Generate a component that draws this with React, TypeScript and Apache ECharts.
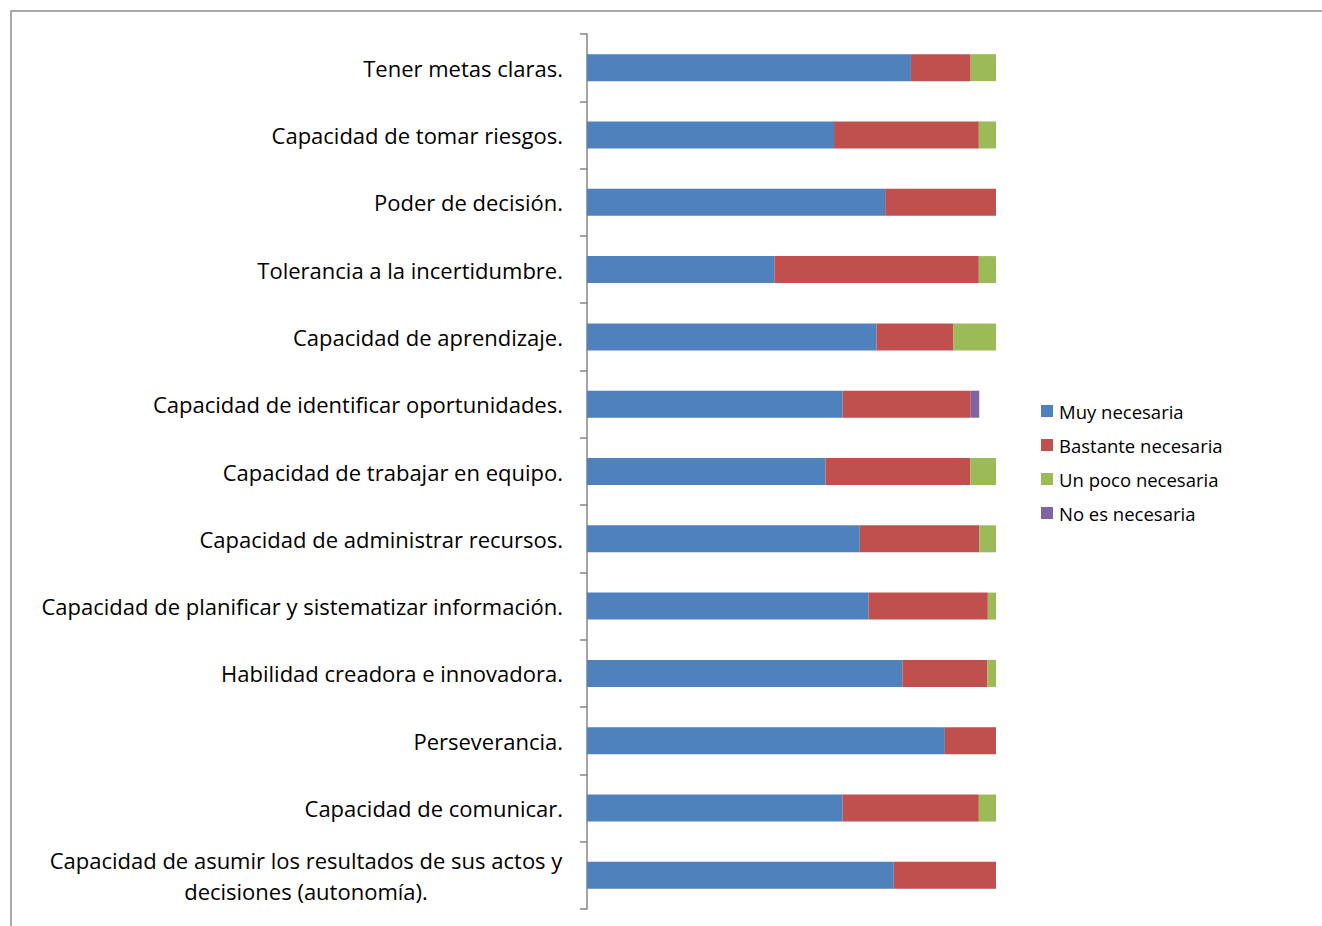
import React, { useEffect, useRef } from "react";
import * as echarts from "echarts";

const categories = [
  "Tener metas claras.",
  "Capacidad de tomar riesgos.",
  "Poder de decisión.",
  "Tolerancia a la incertidumbre.",
  "Capacidad de aprendizaje.",
  "Capacidad de identificar oportunidades.",
  "Capacidad de trabajar en equipo.",
  "Capacidad de administrar recursos.",
  "Capacidad de planificar y sistematizar información.",
  "Habilidad creadora e innovadora.",
  "Perseverancia.",
  "Capacidad de comunicar.",
  "Capacidad de asumir los resultados de sus actos y\ndecisiones (autonomía).",
];

const seriesNames = ["Muy necesaria", "Bastante necesaria", "Un poco necesaria", "No es necesaria"];

// percentages (%), top to bottom
const muyNecesaria = [79.2, 60.4, 72.9, 45.8, 70.8, 62.5, 58.3, 66.7, 68.8, 77.1, 87.5, 62.5, 75.0];
const bastanteNecesaria = [14.6, 35.4, 27.1, 50.0, 18.8, 31.3, 35.4, 29.2, 29.2, 20.8, 12.5, 33.3, 25.0];
const unPocoNecesaria = [6.2, 4.2, 0, 4.2, 10.4, 0, 6.3, 4.1, 2.0, 2.1, 0, 4.2, 0];
const noEsNecesaria = [0, 0, 0, 0, 0, 2.1, 0, 0, 0, 0, 0, 0, 0];

const colors = ["#4F81BD", "#C0504D", "#9BBB59", "#8064A2"];
const FONT = "Open Sans";

export default function App() {
  const ref = useRef<HTMLDivElement>(null);
  useEffect(() => {
    if (!ref.current) return;
    const chart = echarts.init(ref.current, null, { renderer: "svg" });
    const values = [muyNecesaria, bastanteNecesaria, unPocoNecesaria, noEsNecesaria];
    chart.setOption({
      animation: false,
      backgroundColor: "#ffffff",
      color: colors,
      graphic: [
        {
          type: "rect",
          shape: { x: 11, y: 11, width: 1400, height: 1000 },
          style: { fill: "none", stroke: "#8c8c8c", lineWidth: 1.5 },
          silent: true,
        },
      ],
      grid: { left: 587, right: 326, top: 34, bottom: 17, containLabel: false },
      legend: {
        orient: "vertical",
        left: 1041,
        top: 401,
        padding: 0,
        itemWidth: 12,
        itemHeight: 12,
        itemGap: 14,
        icon: "rect",
        textStyle: { fontFamily: FONT, fontSize: 18.5, lineHeight: 20, color: "#000000", padding: [0, 0, 0, 1] },
        data: seriesNames,
      },
      xAxis: { type: "value", min: 0, max: 100, show: false },
      yAxis: {
        type: "category",
        inverse: true,
        data: categories,
        axisLine: { show: true, lineStyle: { color: "#868686", width: 1.5 } },
        axisTick: { show: true, length: 7, lineStyle: { color: "#868686", width: 1.5 } },
        axisLabel: {
          margin: 24,
          fontFamily: FONT,
          fontSize: 22,
          color: "#000000",
          lineHeight: 31,
          formatter: (v: string) =>
            v.indexOf("\n") >= 0 ? v.split("\n").map((l) => `{c|${l}}`).join("\n") : v,
          rich: {
            c: { width: 514, align: "center", fontFamily: FONT, fontSize: 22, color: "#000000", lineHeight: 31 },
          },
        },
      },
      series: seriesNames.map((name, i) => ({
        name,
        type: "bar",
        stack: "total",
        barWidth: 27,
        data: values[i],
        itemStyle: { color: colors[i] },
      })),
    });
    return () => chart.dispose();
  }, []);
  return (
    <div
      ref={ref}
      style={{ position: "fixed", left: 0, top: 0, width: 1322, height: 926, background: "#fff" }}
    />
  );
}
